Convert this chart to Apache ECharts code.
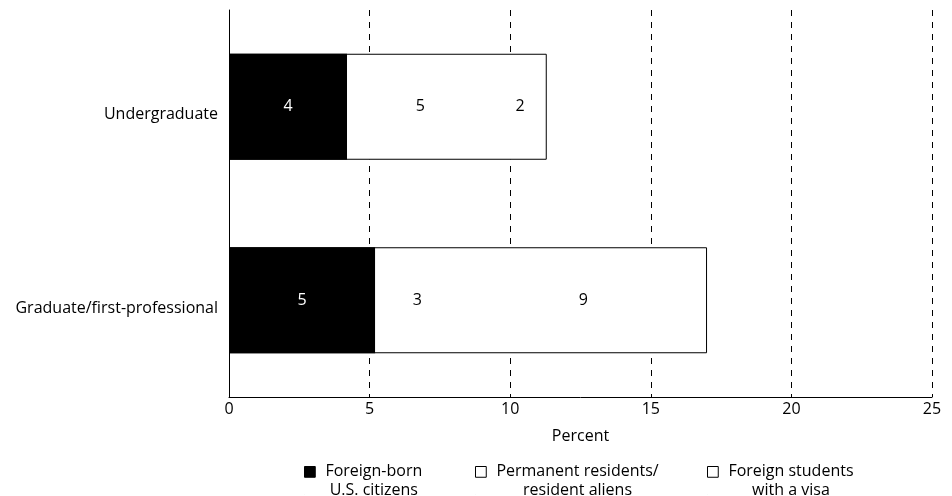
<!DOCTYPE html>
<html>
<head>
<meta charset="utf-8">
<script src="https://cdn.jsdelivr.net/npm/echarts@6/dist/echarts.min.js"></script>
<style>html,body{margin:0;padding:0;background:#fff;}#c{width:952px;height:496px;}</style>
</head>
<body>
<div id="c"></div>
<script>
var categories = ['Undergraduate', 'Graduate/first-professional'];
var seriesNames = ['Foreign-born\nU.S. citizens', 'Permanent residents/\nresident aliens', 'Foreign students\nwith a visa'];
var citizens = [4.2, 5.2];
var permanent = [5.2, 3.0];
var visa = [1.9, 8.8];
var labelsCitizens = [4, 5];
var labelsPermanent = [5, 3];
var labelsVisa = [2, 9];
var xTicks = [0, 5, 10, 15, 20, 25];

var totals = categories.map(function (c, i) { return citizens[i] + permanent[i] + visa[i]; });
var FONT = 'Open Sans';
var FS = 16;

function lab(arr, color) {
  return {
    show: true, position: 'inside', color: color, fontFamily: FONT, fontSize: FS,
    formatter: function (p) { return String(arr[p.dataIndex]); }
  };
}

function legendFor(name, left, fill) {
  return {
    data: [{ name: name, icon: 'path://M0 0H10V10H0Z M0 26H0.01V26.01H0Z',
             itemStyle: { color: fill, borderColor: '#000', borderWidth: 1 } }],
    left: left, top: 458, itemWidth: 11, itemHeight: 28, itemGap: 0,
    selectedMode: false,
    formatter: function (n) {
      var parts = n.split('\n');
      return '{a|' + parts[0] + '}\n{a|' + parts[1] + '}';
    },
    textStyle: {
      fontFamily: FONT, fontSize: FS, color: '#000', padding: [0, 0, 0, 5],
      rich: { a: { align: 'center', fontFamily: FONT, fontSize: FS, lineHeight: 19, color: '#000' } }
    }
  };
}

var chart = echarts.init(document.getElementById('c'), null, { renderer: 'canvas' });
chart.setOption({
  animation: false,
  backgroundColor: '#fff',
  grid: { left: 229, right: 20, top: 10, bottom: 99 },
  legend: [
    legendFor(seriesNames[0], 299, '#000'),
    legendFor(seriesNames[1], 470, '#fff'),
    legendFor(seriesNames[2], 702, '#fff')
  ],
  xAxis: {
    type: 'value', min: 0, max: 25, interval: 5,
    name: 'Percent', nameLocation: 'middle', nameGap: 31,
    nameTextStyle: { fontFamily: FONT, fontSize: FS, color: '#000' },
    axisLine: { show: true, lineStyle: { color: '#000', width: 1 } },
    axisTick: { show: false },
    axisLabel: { fontFamily: FONT, fontSize: FS, color: '#000', margin: 4,
      formatter: function (v) { return xTicks.indexOf(v) >= 0 ? String(v) : ''; } },
    splitLine: { show: true, lineStyle: { color: '#000', type: [6, 6], width: 1 } }
  },
  yAxis: {
    type: 'category', data: categories, inverse: true,
    axisLine: { show: true, lineStyle: { color: '#000', width: 1 } },
    axisTick: { show: false },
    axisLabel: { fontFamily: FONT, fontSize: FS, color: '#000', margin: 11, verticalAlign: 'top' }
  },
  series: [
    { name: seriesNames[0], type: 'bar', stack: 'a', barWidth: 106, data: citizens,
      itemStyle: { color: '#000' }, label: lab(labelsCitizens, '#fff') },
    { name: seriesNames[1], type: 'bar', stack: 'a', barWidth: 106, data: permanent,
      itemStyle: { color: '#fff' }, label: lab(labelsPermanent, '#000') },
    { name: seriesNames[2], type: 'bar', stack: 'a', barWidth: 106, data: visa,
      itemStyle: { color: '#fff' }, label: lab(labelsVisa, '#000') },
    { name: 'outline', type: 'bar', barWidth: 106, barGap: '-100%', data: totals, silent: true, z: 5,
      itemStyle: { color: 'rgba(0,0,0,0)', borderColor: '#000', borderWidth: 1 }, label: { show: false } }
  ]
});
</script>
</body>
</html>
